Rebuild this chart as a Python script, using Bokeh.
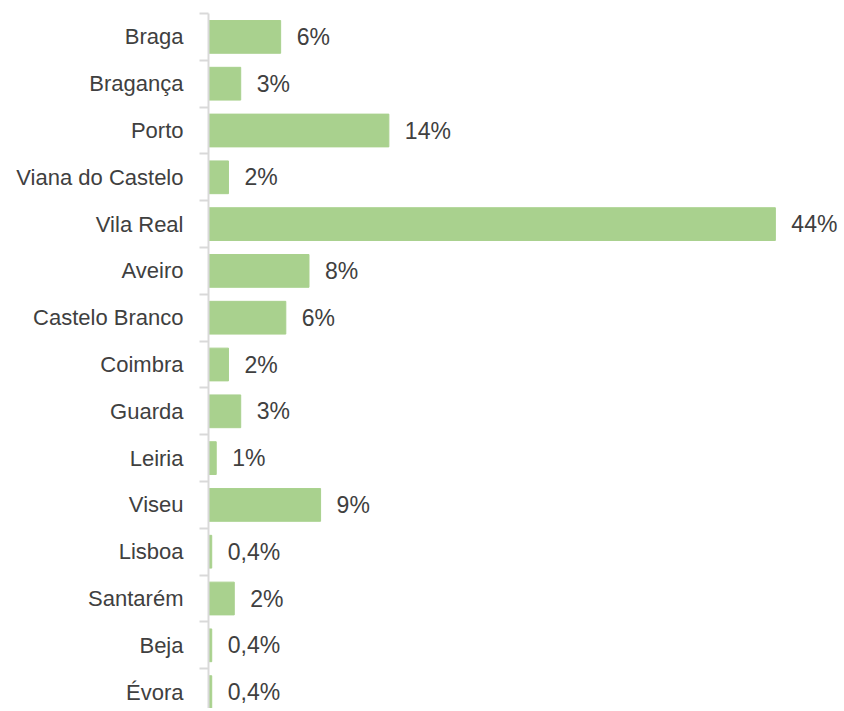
from bokeh.plotting import figure
from bokeh.models import Range1d, FixedTicker, ColumnDataSource
from bokeh.core.properties import value
from bokeh.embed import file_html
from bokeh.resources import INLINE

districts = ["Braga", "Bragança", "Porto", "Viana do Castelo", "Vila Real", "Aveiro",
             "Castelo Branco", "Coimbra", "Guarda", "Leiria", "Viseu", "Lisboa",
             "Santarém", "Beja", "Évora"]
shares = [5.6, 2.5, 14.0, 1.55, 44.0, 7.8, 6.0, 1.55, 2.5, 0.6, 8.7, 0.25, 2.0, 0.25, 0.25]
share_labels = ["6%", "3%", "14%", "2%", "44%", "8%", "6%", "2%", "3%", "1%", "9%",
                "0,4%", "2%", "0,4%", "0,4%"]

FONT = "Liberation Sans"
pos = list(range(len(districts)))

src = ColumnDataSource(dict(y=pos, v=shares, lab=share_labels))

p = figure(width=838, height=708, output_backend="svg", toolbar_location=None,
           x_range=Range1d(0, 48.9), y_range=Range1d(14.35, -0.5),
           min_border_left=208, min_border_right=0, min_border_top=13, min_border_bottom=0)
p.outline_line_color = None
p.xgrid.visible = False
p.ygrid.visible = False
p.xaxis.visible = False

p.hbar(y="y", right="v", left=0, height=0.7, source=src,
       fill_color="#a9d18e", line_color="#a9d18e")
p.text(x="v", y="y", text="lab", source=src, x_offset=16, text_baseline="middle",
       text_align="left", text_font=value(FONT), text_font_size="23px",
       text_color="#404040")

ya = p.yaxis[0]
ya.ticker = FixedTicker(ticks=pos, minor_ticks=[i - 0.5 for i in range(len(districts) + 1)])
ya.major_label_overrides = {i: d for i, d in enumerate(districts)}
ya.major_tick_line_color = None
ya.major_tick_out = 0
ya.major_tick_in = 0
ya.minor_tick_out = 9
ya.minor_tick_in = 0
ya.minor_tick_line_color = "#d9d9d9"
ya.minor_tick_line_width = 2
ya.axis_line_color = "#d9d9d9"
ya.axis_line_width = 2
ya.major_label_standoff = 16
ya.major_label_text_font = FONT
ya.major_label_text_font_size = "22px"
ya.major_label_text_color = "#404040"

open("out.html", "w").write(file_html(p, INLINE))
